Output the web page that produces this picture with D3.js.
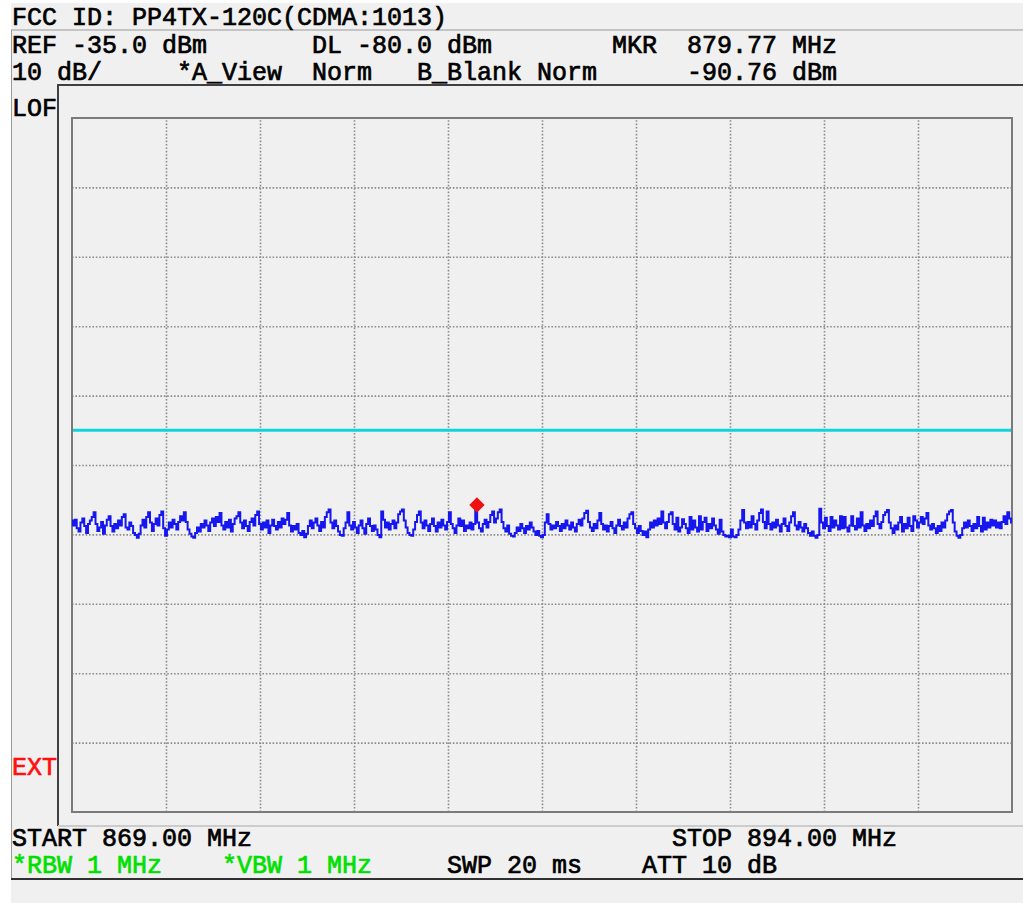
<!DOCTYPE html>
<html>
<head>
<meta charset="utf-8">
<script src="https://cdn.jsdelivr.net/npm/d3@7/dist/d3.min.js"></script>
<style>
  html, body { margin: 0; padding: 0; background: #ffffff; }
  svg text { font-family: "Liberation Mono", "DejaVu Sans Mono", monospace; font-size: 25px; white-space: pre; stroke-width: 0.7px; }
</style>
</head>
<body>
<svg id="chart" width="1023" height="903"></svg>
<script>
// ---------------- data ----------------
const title = "FCC ID: PP4TX-120C(CDMA:1013)";
const headerRow1 = ["REF -35.0 dBm", "DL -80.0 dBm", "MKR  879.77 MHz"];
const headerRow1Cols = [0, 20, 40];
const headerRow2 = ["10 dB/", "*A_View", "Norm", "B_Blank Norm", "-90.76 dBm"];
const headerRow2Cols = [0, 11, 20, 27, 45];
const footerRow1 = ["START 869.00 MHz", "STOP 894.00 MHz"];
const footerRow1Cols = [0, 44];
const footerRow2 = ["*RBW 1 MHz", "*VBW 1 MHz", "SWP 20 ms", "ATT 10 dB"];
const footerRow2Cols = [0, 14, 29, 42];
const footerRow2Colors = ["#00e000", "#00e000", "#000000", "#000000"];

const startFreq = 869.0;     // MHz
const stopFreq = 894.0;      // MHz
const freqStep = 0.05;       // MHz between trace samples
const refLevel = -35.0;      // dBm (top of screen)
const dbPerDiv = 10;
const numDivs = 10;
const displayLine = -80.0;   // dBm
const markerFreq = 879.77;   // MHz
const markerLevel = -90.76;  // dBm

// trace amplitude (dBm), one sample per 0.05 MHz from 869.00 to 894.00
const traceValues = [
  -93.0, -93.7, -92.9, -94.1, -94.6, -93.3, -92.7, -93.8, -94.8, -93.5,
  -93.0, -92.5, -91.8, -93.5, -94.5, -94.0, -93.2, -94.9, -93.7, -92.9,
  -92.4, -93.8, -94.6, -93.5, -94.1, -93.0, -93.7, -92.5, -92.1, -94.0,
  -94.3, -93.3, -93.8, -94.8, -95.1, -95.5, -94.9, -93.7, -92.9, -94.0,
  -92.5, -91.8, -93.3, -94.5, -93.5, -92.7, -93.7, -92.2, -91.7, -94.1,
  -95.2, -94.3, -93.3, -94.0, -92.9, -93.5, -94.3, -93.2, -92.4, -93.0,
  -91.8, -93.2, -94.3, -94.9, -95.3, -95.5, -94.8, -94.0, -94.6, -93.5,
  -94.0, -93.0, -93.7, -94.5, -93.3, -92.7, -93.8, -92.5, -93.2, -91.9,
  -93.7, -94.3, -93.2, -94.0, -92.9, -94.6, -93.5, -92.7, -92.4, -91.8,
  -93.3, -94.1, -93.0, -93.8, -94.5, -93.2, -92.7, -93.7, -92.2, -91.7,
  -93.5, -94.3, -93.3, -94.0, -93.0, -94.8, -93.7, -92.9, -93.8, -94.3,
  -93.2, -94.0, -92.7, -93.5, -92.9, -91.9, -93.7, -94.6, -93.8, -94.3,
  -93.5, -94.8, -95.1, -94.5, -95.4, -94.9, -93.8, -93.0, -94.1, -93.3,
  -92.7, -93.7, -94.5, -93.2, -94.0, -92.5, -91.8, -91.4, -93.3, -94.1,
  -93.0, -93.8, -94.6, -95.1, -95.2, -94.1, -93.3, -91.8, -93.7, -94.3,
  -93.2, -94.0, -94.8, -93.7, -93.0, -94.1, -94.9, -93.5, -92.7, -93.8,
  -94.5, -93.7, -94.3, -95.1, -95.4, -91.7, -92.9, -94.0, -93.3, -94.3,
  -93.5, -93.0, -94.1, -93.3, -92.1, -91.7, -91.4, -93.0, -94.0, -94.8,
  -95.1, -95.2, -94.3, -93.2, -92.2, -91.7, -93.3, -94.1, -93.0, -93.7,
  -94.5, -93.5, -92.7, -93.8, -94.6, -93.3, -94.0, -92.9, -93.7, -94.3,
  -93.2, -91.8, -93.5, -94.1, -94.8, -93.7, -92.7, -93.8, -93.0, -94.5,
  -93.7, -94.1, -93.3, -94.3, -93.5, -91.5, -93.3, -94.1, -94.6, -93.5,
  -92.9, -94.0, -93.2, -92.2, -91.7, -93.3, -92.7, -91.8, -91.4, -93.2,
  -94.1, -94.6, -93.7, -94.9, -95.2, -95.3, -94.8, -94.0, -94.5, -93.5,
  -94.1, -94.8, -93.8, -94.3, -93.3, -94.0, -94.6, -95.1, -94.5, -95.2,
  -95.4, -95.1, -93.3, -92.1, -93.5, -94.3, -93.7, -94.1, -93.2, -93.8,
  -94.5, -93.5, -94.1, -93.0, -93.7, -94.3, -93.3, -94.0, -94.6, -93.5,
  -92.9, -93.7, -92.7, -91.9, -91.6, -93.2, -94.0, -94.5, -93.5, -94.1,
  -93.0, -91.9, -93.5, -94.3, -93.7, -94.6, -93.8, -93.2, -94.1, -94.8,
  -93.7, -92.9, -93.8, -94.3, -93.3, -94.0, -92.7, -92.1, -91.8, -93.5,
  -94.1, -94.8, -93.8, -94.5, -95.1, -94.6, -95.4, -94.3, -93.3, -94.0,
  -93.0, -93.7, -92.7, -93.5, -91.7, -93.3, -94.1, -93.2, -92.1, -91.8,
  -93.5, -94.3, -92.6, -94.6, -94.0, -92.8, -93.5, -94.1, -94.8, -92.5,
  -94.3, -93.0, -94.0, -94.6, -92.4, -94.3, -93.2, -92.6, -94.5, -93.5,
  -94.1, -92.7, -93.7, -94.3, -94.9, -92.9, -94.6, -95.1, -95.3, -95.2,
  -95.4, -94.3, -95.3, -95.4, -95.1, -94.3, -93.0, -91.5, -93.3, -94.1,
  -93.2, -94.0, -92.4, -93.5, -94.3, -93.0, -91.9, -91.4, -93.2, -94.1,
  -91.7, -93.5, -94.3, -93.3, -94.0, -92.9, -93.7, -94.6, -93.5, -92.7,
  -93.8, -94.5, -93.3, -92.4, -91.8, -93.7, -94.3, -93.2, -94.0, -94.6,
  -93.5, -94.1, -94.8, -95.2, -94.6, -95.2, -95.5, -95.1, -91.3, -93.3,
  -94.1, -92.6, -93.8, -94.5, -92.5, -94.0, -93.0, -93.7, -94.3, -92.4,
  -94.1, -92.5, -94.0, -94.6, -93.7, -92.4, -93.8, -94.3, -92.7, -94.0,
  -91.8, -93.7, -94.5, -93.5, -94.1, -93.0, -93.8, -92.4, -91.7, -93.5,
  -94.1, -93.2, -92.2, -91.8, -91.5, -93.3, -94.1, -94.8, -93.7, -94.3,
  -93.3, -92.5, -94.6, -93.5, -94.1, -92.6, -93.8, -94.5, -92.4, -93.0,
  -94.0, -93.3, -92.5, -93.5, -92.7, -91.9, -93.7, -94.3, -93.5, -94.1,
  -94.8, -93.8, -94.5, -93.3, -94.0, -93.0, -92.1, -91.7, -91.5, -93.3,
  -94.6, -95.2, -95.5, -95.1, -94.1, -93.3, -94.0, -93.0, -93.8, -94.5,
  -93.5, -94.1, -92.5, -93.8, -94.6, -92.6, -94.3, -93.3, -94.0, -92.9,
  -93.7, -93.0, -94.0, -93.3, -94.1, -93.2, -92.4, -93.5, -91.8, -92.7,
  -93.3
];

// ---------------- drawing ----------------
const svg = d3.select("#chart");
const W = 1023, H = 903;
const plot = { left: 72, right: 1012, top: 118, bottom: 812 };
const charW = 15, textX0 = 12;
const colX = c => textX0 + c * charW;

// panel background
svg.append("rect").attr("x", 11).attr("y", 3).attr("width", W - 11).attr("height", H - 3).attr("fill", "#f0f0f0");

// separators
svg.append("line").attr("x1", 11).attr("x2", W).attr("y1", 30).attr("y2", 30).attr("stroke", "#c4c4c4").attr("stroke-width", 2);
svg.append("line").attr("x1", 11.5).attr("x2", 11.5).attr("y1", 30).attr("y2", 880).attr("stroke", "#9a9a9a").attr("stroke-width", 1);
svg.append("line").attr("x1", 58).attr("x2", W).attr("y1", 85).attr("y2", 85).attr("stroke", "#404040").attr("stroke-width", 2);
svg.append("line").attr("x1", 58).attr("x2", 58).attr("y1", 84).attr("y2", 826).attr("stroke", "#404040").attr("stroke-width", 2);
svg.append("line").attr("x1", 58).attr("x2", W).attr("y1", 826).attr("y2", 826).attr("stroke", "#cccccc").attr("stroke-width", 2);
svg.append("line").attr("x1", 11).attr("x2", W).attr("y1", 879).attr("y2", 879).attr("stroke", "#303030").attr("stroke-width", 2);

// scales
const x = d3.scaleLinear().domain([startFreq, stopFreq]).range([plot.left, plot.right]);
const bottomLevel = refLevel - dbPerDiv * numDivs;
const y = d3.scaleLinear().domain([bottomLevel, refLevel]).range([plot.bottom, plot.top]);

// grid via axes
const xTicks = d3.range(1, numDivs).map(i => startFreq + i * (stopFreq - startFreq) / numDivs);
const yTicks = d3.range(1, numDivs).map(i => bottomLevel + i * dbPerDiv);
const gx = svg.append("g").attr("transform", `translate(0,${plot.bottom})`)
  .call(d3.axisBottom(x).tickValues(xTicks).tickSize(-(plot.bottom - plot.top)).tickFormat(""));
const gy = svg.append("g").attr("transform", `translate(${plot.left},0)`)
  .call(d3.axisLeft(y).tickValues(yTicks).tickSize(-(plot.right - plot.left)).tickFormat(""));
[gx, gy].forEach(g => {
  g.select(".domain").remove();
  g.selectAll(".tick line").attr("stroke", "#8c8c8c").attr("stroke-width", 1.6).attr("stroke-dasharray", "1.6,1.8");
});

// plot frame
svg.append("rect").attr("x", plot.left).attr("y", plot.top)
  .attr("width", plot.right - plot.left).attr("height", plot.bottom - plot.top)
  .attr("fill", "none").attr("stroke", "#7a7a7a").attr("stroke-width", 2);

// display line
svg.append("line").attr("x1", plot.left + 1).attr("x2", plot.right - 1)
  .attr("y1", y(displayLine)).attr("y2", y(displayLine))
  .attr("stroke", "#10d4dc").attr("stroke-width", 3);

// trace
const traceData = traceValues.map((v, i) => ({ f: startFreq + i * freqStep, v }));
svg.append("path").datum(traceData)
  .attr("fill", "none").attr("stroke", "#1616ee").attr("stroke-width", 2)
  .attr("d", d3.line().x(d => x(d.f)).y(d => y(d.v)).curve(d3.curveStep));

// marker diamond
svg.append("path")
  .attr("d", d3.symbol().type(d3.symbolDiamond2).size(150))
  .attr("transform", `translate(${x(markerFreq)},${y(markerLevel)})`)
  .attr("fill", "#ee1111");

// texts
function addText(t, px, py, color) {
  svg.append("text").attr("x", px).attr("y", py)
    .attr("fill", color).attr("stroke", color).text(t);
}
addText(title, colX(0), 25, "#000000");
headerRow1.forEach((t, i) => addText(t, colX(headerRow1Cols[i]), 53, "#000000"));
headerRow2.forEach((t, i) => addText(t, colX(headerRow2Cols[i]), 80, "#000000"));
addText("LOF", colX(0), 116, "#000000");
addText("EXT", colX(0), 775, "#ff1010");
footerRow1.forEach((t, i) => addText(t, colX(footerRow1Cols[i]), 846, "#000000"));
footerRow2.forEach((t, i) => addText(t, colX(footerRow2Cols[i]), 873, footerRow2Colors[i]));
</script>
</body>
</html>
